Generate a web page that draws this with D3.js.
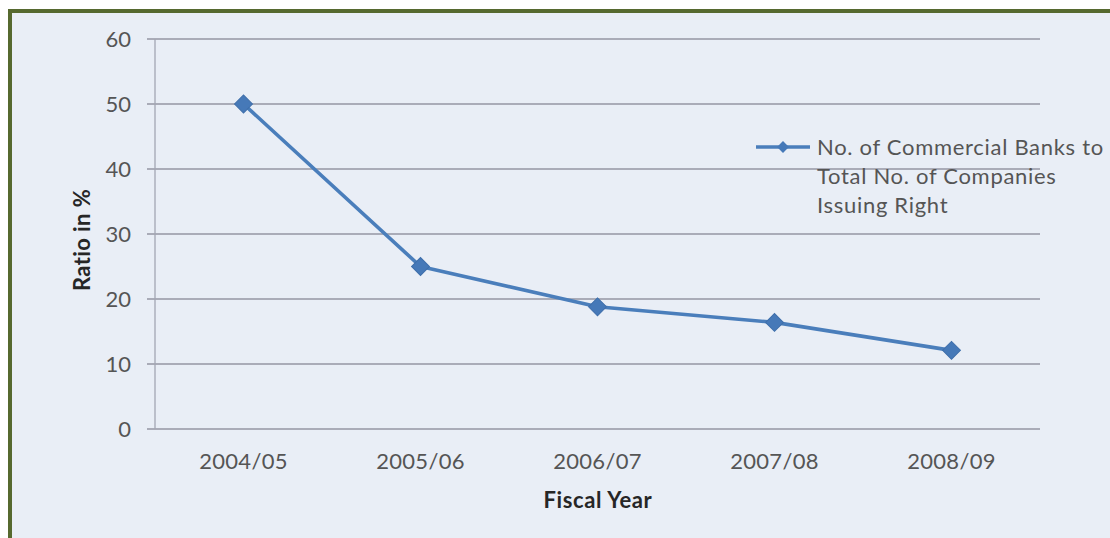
<!DOCTYPE html>
<html>
<head>
<meta charset="utf-8">
<script src="https://cdn.jsdelivr.net/npm/d3@7"></script>
<style>
html,body{margin:0;padding:0;background:#ffffff;}
svg{display:block;}
text{font-family:Lato,"Open Sans","DejaVu Sans",sans-serif;}
</style>
</head>
<body>
<svg id="chart" width="1110" height="538"></svg>
<script>
const categories = ["2004/05","2005/06","2006/07","2007/08","2008/09"];
const seriesName = "No. of Commercial Banks to Total No. of Companies Issuing Right";
const legendLines = ["No. of Commercial Banks to","Total No. of Companies","Issuing Right"];
const values = [50, 25, 18.8, 16.4, 12.1];
const yTicks = [0,10,20,30,40,50,60];

const svg = d3.select("#chart");
const W = 1110, H = 538;

// background and frame
svg.append("rect").attr("x",0).attr("y",0).attr("width",W).attr("height",H).attr("fill","#ffffff");
svg.append("rect").attr("x",10).attr("y",11).attr("width",W-10).attr("height",H-11).attr("fill","#e9eef6");
svg.append("rect").attr("x",8).attr("y",9).attr("width",W-8).attr("height",4).attr("fill","#56692f");
svg.append("rect").attr("x",8).attr("y",9).attr("width",4).attr("height",H-9).attr("fill","#56692f");

const m = {left:155, right:1040, top:39, bottom:429};
const x = d3.scaleBand().domain(categories).range([m.left, m.right]);
const y = d3.scaleLinear().domain([0,60]).range([m.bottom, m.top]);

// gridlines
svg.append("g").selectAll("line").data(yTicks).join("line")
  .attr("x1", m.left-8).attr("x2", m.right)
  .attr("y1", d=>y(d)).attr("y2", d=>y(d))
  .attr("stroke","#9496a3").attr("stroke-width",1.3);

// y axis line
svg.append("line").attr("x1",m.left).attr("x2",m.left).attr("y1",m.top).attr("y2",m.bottom)
  .attr("stroke","#a3a6b3").attr("stroke-width",1.3);

// y tick labels
svg.append("g").selectAll("text").data(yTicks).join("text")
  .attr("x", 131).attr("y", d=>y(d)).attr("dy","0.36em")
  .attr("text-anchor","end").attr("font-size",22).attr("fill","#555555")
  .text(d=>d);

// x tick labels
svg.append("g").selectAll("text").data(categories).join("text")
  .attr("x", d=>x(d)+x.bandwidth()/2).attr("y", 461).attr("dy","0.36em")
  .attr("text-anchor","middle").attr("font-size",22).attr("letter-spacing",0.3).attr("fill","#555555")
  .text(d=>d);

// axis titles
svg.append("text").attr("x",598).attr("y",500).attr("dy","0.36em").attr("text-anchor","middle")
  .attr("font-size",22).attr("letter-spacing",0.6).attr("font-weight","bold").attr("fill","#262626")
  .text("Fiscal Year");
svg.append("text").attr("transform","translate(82,240) rotate(-90)").attr("dy","0.36em").attr("text-anchor","middle")
  .attr("font-size",22).attr("letter-spacing",0.4).attr("font-weight","bold").attr("fill","#262626")
  .text("Ratio in %");

// line
const line = d3.line().x((d,i)=>x(categories[i])+x.bandwidth()/2).y(d=>y(d));
svg.append("path").datum(values).attr("d",line)
  .attr("fill","none").attr("stroke","#4a7ebb").attr("stroke-width",3.6).attr("stroke-linejoin","round");

// markers (square rotated 45deg)
const diamond = d3.symbol().type(d3.symbolSquare).size(160);
svg.append("g").selectAll("path").data(values).join("path")
  .attr("d", diamond)
  .attr("transform",(d,i)=>`translate(${x(categories[i])+x.bandwidth()/2},${y(d)}) rotate(45)`)
  .attr("fill","#4679b8").attr("stroke","#3f6fab").attr("stroke-width",1);

// legend
const lg = svg.append("g");
lg.append("line").attr("x1",756).attr("x2",810).attr("y1",147).attr("y2",147)
  .attr("stroke","#4a7ebb").attr("stroke-width",3.4);
lg.append("path").attr("d", d3.symbol().type(d3.symbolSquare).size(70))
  .attr("transform","translate(783,147) rotate(45)").attr("fill","#4679b8");
lg.selectAll("text").data(legendLines).join("text")
  .attr("x",817).attr("y",(d,i)=>147+i*29).attr("dy","0.36em")
  .attr("font-size",22).attr("letter-spacing",0.7).attr("fill","#555555").text(d=>d);
</script>
</body>
</html>
